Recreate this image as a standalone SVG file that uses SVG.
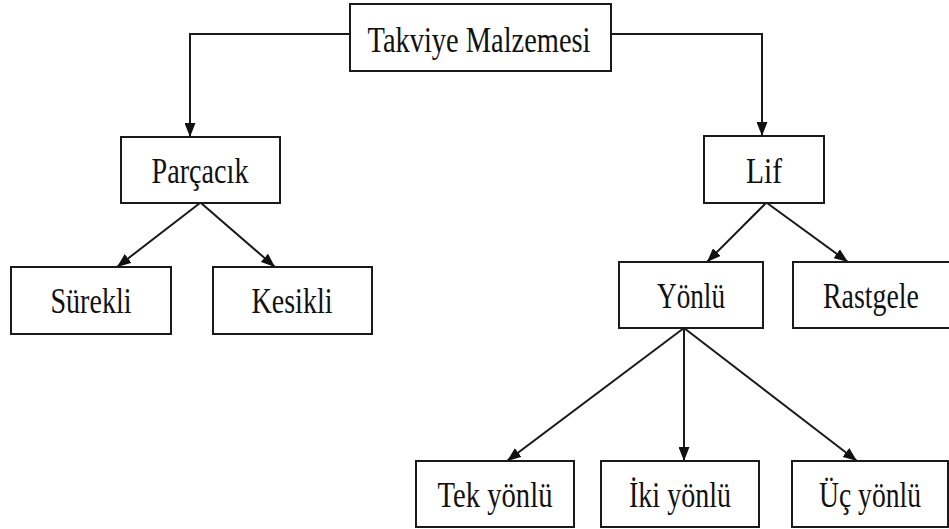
<svg xmlns="http://www.w3.org/2000/svg" width="949" height="529" viewBox="0 0 949 529">
<style>
.box{fill:#fff;stroke:#1a1a1a;stroke-width:2}
text{font-family:'Liberation Serif','DejaVu Serif',serif;font-size:35px;fill:#111;text-anchor:middle}
.conn{fill:none;stroke:#1a1a1a;stroke-width:2}
</style>
<defs>
<marker id="arr" viewBox="0 0 14 11" refX="14" refY="5.5" markerWidth="14" markerHeight="11" markerUnits="userSpaceOnUse" orient="auto">
<path d="M0,0 L14,5.5 L0,11 z" fill="#111"/>
</marker>
</defs>
<rect width="949" height="529" fill="#fff"/>
<g id="connectors">
<path class="conn" d="M350,34 H190 V137" marker-end="url(#arr)"/>
<path class="conn" d="M611,34 H762 V136" marker-end="url(#arr)"/>
<line class="conn" x1="200" y1="203" x2="117" y2="267" marker-end="url(#arr)"/>
<line class="conn" x1="201" y1="203" x2="275" y2="267" marker-end="url(#arr)"/>
<line class="conn" x1="766" y1="203" x2="707" y2="262" marker-end="url(#arr)"/>
<line class="conn" x1="767" y1="203" x2="848" y2="262" marker-end="url(#arr)"/>
<line class="conn" x1="684" y1="328" x2="507" y2="461" marker-end="url(#arr)"/>
<line class="conn" x1="684" y1="328" x2="684" y2="461" marker-end="url(#arr)"/>
<line class="conn" x1="684" y1="328" x2="857" y2="461" marker-end="url(#arr)"/>
</g>
<g id="takviye"><rect class="box" x="350" y="4" width="261" height="67"/><text x="479" y="52" textLength="223" lengthAdjust="spacingAndGlyphs">Takviye Malzemesi</text></g>
<g id="parcacik"><rect class="box" x="121" y="137" width="159" height="66"/><text x="200" y="183" textLength="97" lengthAdjust="spacingAndGlyphs">Parçacık</text></g>
<g id="lif"><rect class="box" x="704" y="136" width="120" height="67"/><text x="764" y="183" textLength="36" lengthAdjust="spacingAndGlyphs">Lif</text></g>
<g id="surekli"><rect class="box" x="11" y="267" width="160" height="67"/><text x="91" y="313" textLength="81" lengthAdjust="spacingAndGlyphs">Sürekli</text></g>
<g id="kesikli"><rect class="box" x="213" y="267" width="159" height="67"/><text x="292" y="313" textLength="81" lengthAdjust="spacingAndGlyphs">Kesikli</text></g>
<g id="yonlu"><rect class="box" x="619" y="262" width="144" height="66"/><text x="691" y="308" textLength="68" lengthAdjust="spacingAndGlyphs">Yönlü</text></g>
<g id="rastgele"><rect class="box" x="793" y="262" width="158" height="66"/><text x="871" y="308" textLength="96" lengthAdjust="spacingAndGlyphs">Rastgele</text></g>
<g id="tek"><rect class="box" x="416" y="461" width="158" height="66"/><text x="495" y="507" textLength="115" lengthAdjust="spacingAndGlyphs">Tek yönlü</text></g>
<g id="iki"><rect class="box" x="601" y="461" width="158" height="66"/><text x="680" y="507" textLength="102" lengthAdjust="spacingAndGlyphs">İki yönlü</text></g>
<g id="uc"><rect class="box" x="792" y="461" width="156" height="66"/><text x="870" y="507" textLength="102" lengthAdjust="spacingAndGlyphs">Üç yönlü</text></g>
</svg>
